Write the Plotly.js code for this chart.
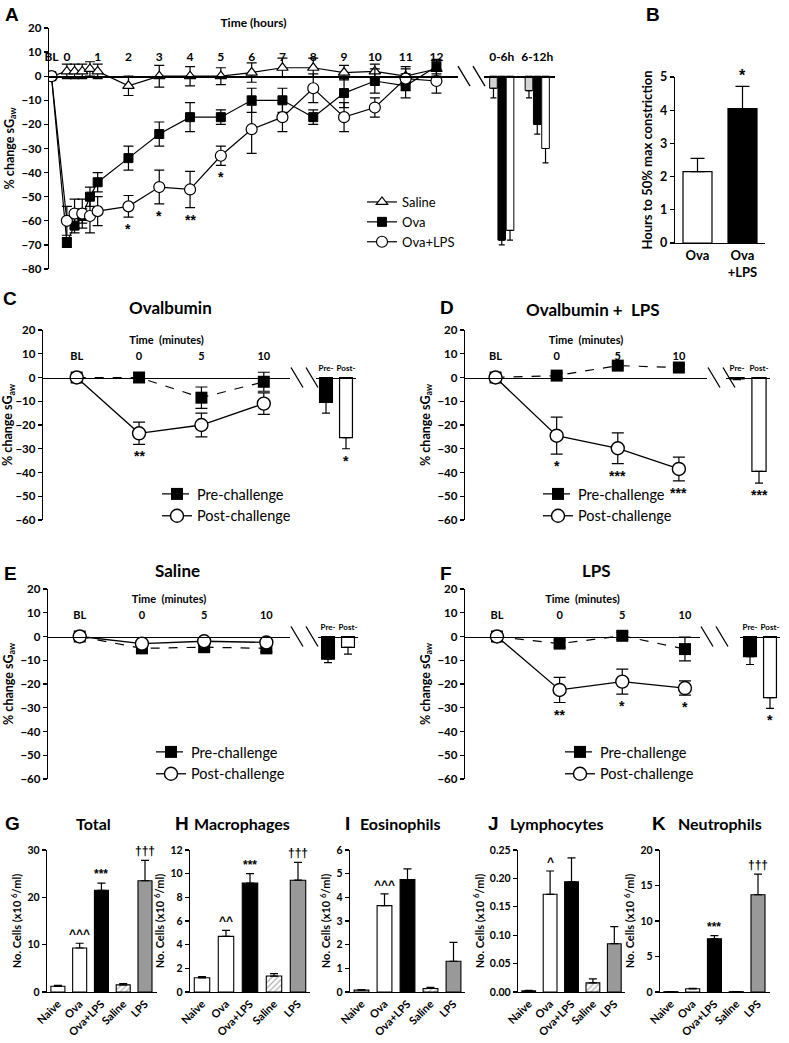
<!DOCTYPE html>
<html><head><meta charset="utf-8">
<script src="https://cdn.plot.ly/plotly-3.0.1.min.js"></script>
<style>html,body{margin:0;padding:0;background:#fff}</style>
</head><body><div id="chart" style="width:789px;height:1043px"></div>
<script>
// ---------------- DATA ----------------
// Panel A: time course (hours); BL is placed half an hour before 0
const hourTickVals = [-0.5, 0, 1, 2, 3, 4, 5, 6, 7, 8, 9, 10, 11, 12];
const hourTickText = ['BL', '0', '1', '2', '3', '4', '5', '6', '7', '8', '9', '10', '11', '12'];
const timeA     = [-0.5, 0, 0.25, 0.5, 0.75, 1, 2, 3, 4, 5, 6, 7, 8, 9, 10, 11, 12];
const salineA   = [0, 2, 2, 2, 3, 2, -4, 0, 0, 0, 1.5, 3.5, 3.5, 1.5, 2, 0, 3];
const salineErr = [0, 3, 3, 3, 3, 3, 4, 4.5, 4, 3.5, 4, 4, 4, 3, 3, 3, 3];
const ovaA      = [0, -69, -62, -58, -50, -44, -34, -24, -17, -17, -10, -10, -17, -7, -2, -4, 4];
const ovaErr    = [0, 2, 3, 3, 4, 4, 5, 5, 6, 3, 5, 5, 3, 6, 5, 5, 3];
const ovaLpsA   = [0, -60, -57, -57, -58, -56, -54, -46, -47, -33, -22, -17, -5, -17, -13, -1, -2];
const ovaLpsErr = [0, 6, 6, 6, 7, 6, 4.5, 7, 7.5, 4, 10, 6, 6, 6, 4, 5, 5];
const sigA      = ['', '', '', '', '', '', '*', '*', '**', '*', '', '', '', '', '', '', ''];

const periodsA      = ['0-6h', '6-12h'];
const salineBarA    = [-5, -6];
const salineBarErr  = [4, 3];
const ovaBarA       = [-68, -20];
const ovaBarErr     = [2, 4];
const ovaLpsBarA    = [-64, -30];
const ovaLpsBarErr  = [4, 6];

// Panel B
const groupsB = ['Ova', 'Ova<br>+LPS'];
const hoursB  = [2.15, 4.05];
const errB    = [0.4, 0.67];
const sigB    = ['', '*'];

// Panels C-F: minutes; BL placed one step before 0
const minuteTickVals = [-5, 0, 5, 10];
const minuteTickText = ['BL', '0', '5', '10'];
const challengeBars  = ['Pre-', 'Post-'];

const preC = [0, 0, -8.5, -1.8],   preCErr = [0, 2, 4.5, 4];
const postC = [0, -23.5, -20, -11], postCErr = [0, 4.7, 5, 4.5];
const sigC = ['', '**', '', ''];
const barC = [-10.5, -25.3], barCErr = [4.5, 4.7], barCSig = ['', '*'];

const preD = [0, 0.8, 5, 4.2],       preDErr = [0, 1, 1, 1];
const postD = [0, -24.5, -29.8, -38.5], postDErr = [0, 7.8, 6.5, 5];
const sigD = ['', '*', '***', '***'];
const barD = [-0.6, -39.5], barDErr = [0.3, 5], barDSig = ['', '***'];

const preE = [0, -5, -4.5, -5],   preEErr = [0, 1.5, 1.5, 1.5];
const postE = [0, -3, -2, -2.5],  postEErr = [0, 1, 1, 1];
const sigE = ['', '', '', ''];
const barE = [-9.5, -4.6], barEErr = [1.5, 2.8], barESig = ['', ''];

const preF = [0, -3, 0.3, -5.3],      preFErr = [0, 1.5, 1.5, 5];
const postF = [0, -22.5, -19, -21.7], postFErr = [0, 5.3, 5.3, 3];
const sigF = ['', '**', '*', '*'];
const barF = [-8.5, -25.7], barFErr = [3.3, 4.6], barFSig = ['', '*'];

// Panels G-K: BAL cells
const cellGroups = ['Naive', 'Ova', 'Ova+LPS', 'Saline', 'LPS'];
const totalCells = [1.2, 9.3, 21.5, 1.5, 23.5],   totalErr = [0.2, 1.0, 1.5, 0.3, 4.3];
const totalSig = ['', '^^^', '***', '', '†††'];
const macroCells = [1.2, 4.7, 9.2, 1.35, 9.45],   macroErr = [0.1, 0.5, 0.8, 0.2, 1.5];
const macroSig = ['', '^^', '***', '', '†††'];
const eosCells = [0.08, 3.65, 4.75, 0.15, 1.3],   eosErr = [0.02, 0.5, 0.45, 0.05, 0.8];
const eosSig = ['', '^^^', '', '', ''];
const lymCells = [0.002, 0.172, 0.194, 0.016, 0.085], lymErr = [0.001, 0.041, 0.042, 0.007, 0.03];
const lymSig = ['', '^', '', '', ''];
const neuCells = [0.05, 0.45, 7.5, 0.05, 13.7],   neuErr = [0.01, 0.05, 0.45, 0.01, 2.9];
const neuSig = ['', '', '***', '', '†††'];

// ---------------- HELPERS ----------------
const W = 789, H = 1043;
const px = v => v / W;
const py = v => 1 - v / H;
const FONT = 'Lato, "Open Sans", sans-serif';
const ARIAL = '"Liberation Sans", Arial, sans-serif';
const f = (size, bold = true) => ({family: FONT, size: size, color: '#000', weight: bold ? 'bold' : 'normal'});
const sf = size => ({family: ARIAL, size: size, color: '#000', weight: 'bold'});
const zeros = a => a.map(() => 0);

const traces = [], annotations = [], shapes = [];
const layout = {
  width: W, height: H, margin: {l: 0, r: 0, t: 0, b: 0},
  paper_bgcolor: '#fff', plot_bgcolor: 'rgba(0,0,0,0)',
  barmode: 'group', bargap: 0.3, bargroupgap: 0.08,
  font: f(11), showlegend: true, annotations: annotations, shapes: shapes
};

function yAx(topPx, botPx, range, dtick, title, extra) {
  return Object.assign({
    domain: [py(botPx), py(topPx)], range: range, dtick: dtick,
    showline: true, linecolor: '#000', linewidth: 1.3,
    ticks: 'outside', ticklen: 4, tickwidth: 1.3, tickcolor: '#000',
    showgrid: false, zeroline: false, tickfont: f(11.5), fixedrange: true,
    title: {text: title, font: f(12.5), standoff: 4}
  }, extra || {});
}
function zeroPos(yax) {
  const d = yax.domain, r = yax.range;
  return d[0] + (0 - r[0]) / (r[1] - r[0]) * (d[1] - d[0]);
}
function topX(l, r, range, yax, extra) {
  return Object.assign({
    domain: [px(l), px(r)], range: range, anchor: 'free', position: zeroPos(yax), side: 'top',
    showline: true, linecolor: '#000', linewidth: 1.3,
    ticks: 'outside', ticklen: 8, tickcolor: 'rgba(0,0,0,0)', tickangle: 0,
    showgrid: false, zeroline: false, fixedrange: true
  }, extra || {});
}
function breakMarks(x0, yax) {
  const zPx = (1 - zeroPos(yax)) * H;
  [0, 15].forEach(k => shapes.push({type: 'line', xref: 'paper', yref: 'paper',
    x0: px(x0 + k), y0: py(zPx - 10), x1: px(x0 + k + 12), y1: py(zPx + 10),
    line: {color: '#000', width: 1.3}}));
}
function label(x, y, text, size, family) {
  annotations.push({xref: 'paper', yref: 'paper', x: px(x), y: py(y), text: text, showarrow: false,
    xanchor: 'center', yanchor: 'middle', font: {family: family || FONT, size: size, color: '#000', weight: 'bold'}});
}
const errStyle = {color: '#000', thickness: 1.2, width: 5};

// ---------------- PANEL A ----------------
layout.yaxis = yAx(28, 269, [-80, 20], 10, '% change sG<sub>aw</sub>', {anchor: 'x'});
layout.xaxis = topX(49, 458, [-0.58, 12.7], layout.yaxis, {
  tickvals: hourTickVals, ticktext: hourTickText, tickfont: f(12), ticklen: 10,
  title: {text: 'Time (hours)', font: f(12), standoff: 18}});
const lineSeriesA = [
  ['Saline', salineA, salineErr, {symbol: 'triangle-up', size: 10, color: '#fff', line: {color: '#000', width: 1.2}}],
  ['Ova', ovaA, ovaErr, {symbol: 'square', size: 9, color: '#000', line: {color: '#000', width: 1}}],
  ['Ova+LPS', ovaLpsA, ovaLpsErr, {symbol: 'circle', size: 11, color: '#fff', line: {color: '#000', width: 1.2}}]
];
lineSeriesA.forEach(s => traces.push({type: 'scatter', mode: 'lines+markers', name: s[0], x: timeA, y: s[1],
  xaxis: 'x', yaxis: 'y', line: {color: '#000', width: 1.2}, marker: s[3],
  error_y: Object.assign({type: 'data', array: s[2]}, errStyle), legend: 'legend'}));
sigA.forEach((s, i) => { if (s) annotations.push({xref: 'x', yref: 'y', x: timeA[i], y: ovaLpsA[i] - ovaLpsErr[i],
  text: s, showarrow: false, yanchor: 'top', yshift: -2, font: sf(14)}); });

layout.yaxis2 = Object.assign({}, layout.yaxis, {visible: false, anchor: 'x2', title: {text: ''}});
layout.xaxis2 = topX(484, 555, undefined, layout.yaxis2, {type: 'category', tickfont: f(12), ticklen: 10});
delete layout.xaxis2.range;
[[salineBarA, salineBarErr, '#d4d4d4'], [ovaBarA, ovaBarErr, '#000'], [ovaLpsBarA, ovaLpsBarErr, '#fff']].forEach(b =>
  traces.push({type: 'bar', x: periodsA, y: b[0], xaxis: 'x2', yaxis: 'y2', showlegend: false,
    marker: {color: b[2], line: {color: '#000', width: 1}},
    error_y: Object.assign({type: 'data', symmetric: false, array: zeros(b[1]), arrayminus: b[1]}, errStyle, {width: 3})}));
breakMarks(458, layout.yaxis);

layout.legend = {x: px(362), y: py(187), xanchor: 'left', yanchor: 'top', bgcolor: 'rgba(0,0,0,0)',
  font: f(13, false), tracegroupgap: 0, itemwidth: 30};

// ---------------- PANEL B ----------------
layout.yaxis3 = yAx(77, 243, [0, 5], 1, '', {anchor: 'x3', tickfont: f(12.5), title: {text: 'Hours to 50% max constriction', font: f(13), standoff: 4}});
layout.xaxis3 = {domain: [px(675), px(765)], anchor: 'y3', type: 'category', showline: true, linecolor: '#000',
  linewidth: 1.3, ticks: '', tickangle: 0, tickfont: f(13), showgrid: false, zeroline: false, fixedrange: true};
traces.push({type: 'bar', x: groupsB, y: hoursB, xaxis: 'x3', yaxis: 'y3', showlegend: false,
  marker: {color: ['#fff', '#000'], line: {color: '#000', width: 1.2}},
  error_y: Object.assign({type: 'data', symmetric: false, array: errB, arrayminus: zeros(errB)}, errStyle, {width: 7})});
sigB.forEach((s, i) => { if (s) annotations.push({xref: 'x3', yref: 'y3', x: groupsB[i], y: hoursB[i] + errB[i],
  text: s, showarrow: false, yanchor: 'bottom', yshift: 0, font: sf(16)}); });

// ---------------- PANELS C-F ----------------
function minutePanel(n, top, bot, xl, xr, xrange, barL, barR, pre, preErr, post, postErr, sig, bars, barErr, barSig, legendName, legX, legY) {
  const xa = 'xaxis' + n, ya = 'yaxis' + n, xb = 'xaxis' + (n + 1), yb = 'yaxis' + (n + 1);
  layout[ya] = yAx(top, bot, [-60, 20], 10, '% change sG<sub>aw</sub>', {anchor: 'x' + n});
  layout[xa] = topX(xl, xr, xrange, layout[ya], {tickvals: minuteTickVals, ticktext: minuteTickText,
    tickfont: f(11), ticklen: 13, title: {text: 'Time  (minutes)', font: f(11), standoff: 1}});
  traces.push({type: 'scatter', mode: 'lines+markers', name: 'Pre-challenge', x: minuteTickVals, y: pre,
    xaxis: 'x' + n, yaxis: 'y' + n, line: {color: '#000', width: 1.2, dash: 'dash'},
    marker: {symbol: 'square', size: 12, color: '#000'},
    error_y: Object.assign({type: 'data', array: preErr}, errStyle, {width: 6}), legend: legendName});
  traces.push({type: 'scatter', mode: 'lines+markers', name: 'Post-challenge', x: minuteTickVals, y: post,
    xaxis: 'x' + n, yaxis: 'y' + n, line: {color: '#000', width: 1.3},
    marker: {symbol: 'circle', size: 13, color: '#fff', line: {color: '#000', width: 1.4}},
    error_y: Object.assign({type: 'data', array: postErr}, errStyle, {width: 6}), legend: legendName});
  sig.forEach((s, i) => { if (s) annotations.push({xref: 'x' + n, yref: 'y' + n, x: minuteTickVals[i], y: post[i] - postErr[i],
    text: s, showarrow: false, yanchor: 'top', yshift: -2, font: sf(14)}); });
  layout[yb] = Object.assign({}, layout[ya], {visible: false, anchor: 'x' + (n + 1), title: {text: ''}});
  layout[xb] = topX(barL, barR, undefined, layout[yb], {type: 'category', tickfont: f(8), ticklen: 3, tickangle: 0});
  delete layout[xb].range;
  traces.push({type: 'bar', x: challengeBars, y: bars, xaxis: 'x' + (n + 1), yaxis: 'y' + (n + 1), showlegend: false,
    marker: {color: ['#000', '#fff'], line: {color: '#000', width: 1.2}},
    error_y: Object.assign({type: 'data', symmetric: false, array: zeros(barErr), arrayminus: barErr}, errStyle, {width: 4})});
  barSig.forEach((s, i) => { if (s) annotations.push({xref: 'x' + (n + 1), yref: 'y' + (n + 1), x: challengeBars[i],
    y: bars[i] - barErr[i], text: s, showarrow: false, yanchor: 'top', yshift: -2, font: sf(14)}); });
  breakMarks(xr + 1, layout[ya]);
  layout[legendName] = {x: px(legX), y: py(legY), xanchor: 'left', yanchor: 'top', bgcolor: 'rgba(0,0,0,0)',
    font: f(14.5, false), tracegroupgap: 0, itemwidth: 30};
}
minutePanel(4, 330, 520, 43, 290, [-7.7, 12.1], 316, 356, preC, preCErr, postC, postCErr, sigC, barC, barCErr, barCSig, 'legend2', 157, 478);
minutePanel(6, 330, 520, 465, 707, [-7.5, 12.3], 726, 770, preD, preDErr, postD, postDErr, sigD, barD, barDErr, barDSig, 'legend3', 538, 478);
minutePanel(8, 589, 779, 48, 290, [-7.55, 11.9], 318, 358, preE, preEErr, postE, postEErr, sigE, barE, barEErr, barESig, 'legend4', 151, 736);
minutePanel(10, 589, 779, 465, 700, [-7.55, 11.2], 740, 780, preF, preFErr, postF, postFErr, sigF, barF, barFErr, barFSig, 'legend5', 560, 736);

// ---------------- PANELS G-K ----------------
const cellColors = ['#fff', '#fff', '#000', '#b0b0b0', '#999'];
const cellPattern = {shape: ['x', '', '', '/', ''], fgcolor: '#555', size: 4, solidity: 0.3};
function cellPanel(n, l, r, range, dtick, vals, errs, sig, extra) {
  layout['yaxis' + n] = yAx(850, 992, range, dtick, '',
    Object.assign({anchor: 'x' + n, tickfont: f(10.5), title: {text: 'No. Cells (x10 <sup>6</sup>/ml)', font: f(11), standoff: 3}}, extra || {}));
  layout['xaxis' + n] = {domain: [px(l), px(r)], anchor: 'y' + n, type: 'category', showline: true, linecolor: '#000',
    linewidth: 1.3, ticks: '', tickangle: -45, tickfont: f(11), showgrid: false, zeroline: false, fixedrange: true};
  traces.push({type: 'bar', x: cellGroups, y: vals, xaxis: 'x' + n, yaxis: 'y' + n, showlegend: false,
    marker: {color: cellColors, pattern: cellPattern, line: {color: '#000', width: 1.1}},
    error_y: Object.assign({type: 'data', symmetric: false, array: errs, arrayminus: zeros(errs)}, errStyle, {width: 4})});
  sig.forEach((s, i) => { if (s) annotations.push({xref: 'x' + n, yref: 'y' + n, x: cellGroups[i], y: vals[i] + errs[i],
    text: s, showarrow: false, yanchor: 'bottom', yshift: 0, font: sf(12)}); });
}
cellPanel(12, 47, 157, [0, 30], 10, totalCells, totalErr, totalSig);
cellPanel(13, 190, 310, [0, 12], 2, macroCells, macroErr, macroSig);
cellPanel(14, 350, 465, [0, 6], 1, eosCells, eosErr, eosSig);
cellPanel(15, 518, 625, [0, 0.25], 0.05, lymCells, lymErr, lymSig, {tickformat: '.2f'});
cellPanel(16, 660, 770, [0, 20], 5, neuCells, neuErr, neuSig);

// ---------------- LABELS ----------------
[['A', 12, 15], ['B', 653, 15], ['C', 10, 298], ['D', 447, 307], ['E', 10, 573], ['F', 446, 573],
 ['G', 12, 823], ['H', 182, 823], ['I', 347, 823], ['J', 493, 823], ['K', 659, 823]]
  .forEach(p => label(p[1], p[2], p[0], 19, ARIAL));
[['Ovalbumin', 170, 307, 17], ['Ovalbumin +  LPS', 593, 309, 17], ['Saline', 177, 570, 17], ['LPS', 596, 570, 17],
 ['Total', 93, 823, 16], ['Macrophages', 242, 823, 16], ['Eosinophils', 400, 823, 16], ['Lymphocytes', 557, 823, 16],
 ['Neutrophils', 720, 823, 16]].forEach(p => label(p[1], p[2], p[0], p[3]));

Plotly.newPlot('chart', traces, layout, {displayModeBar: false, staticPlot: true});
</script>
</body></html>
